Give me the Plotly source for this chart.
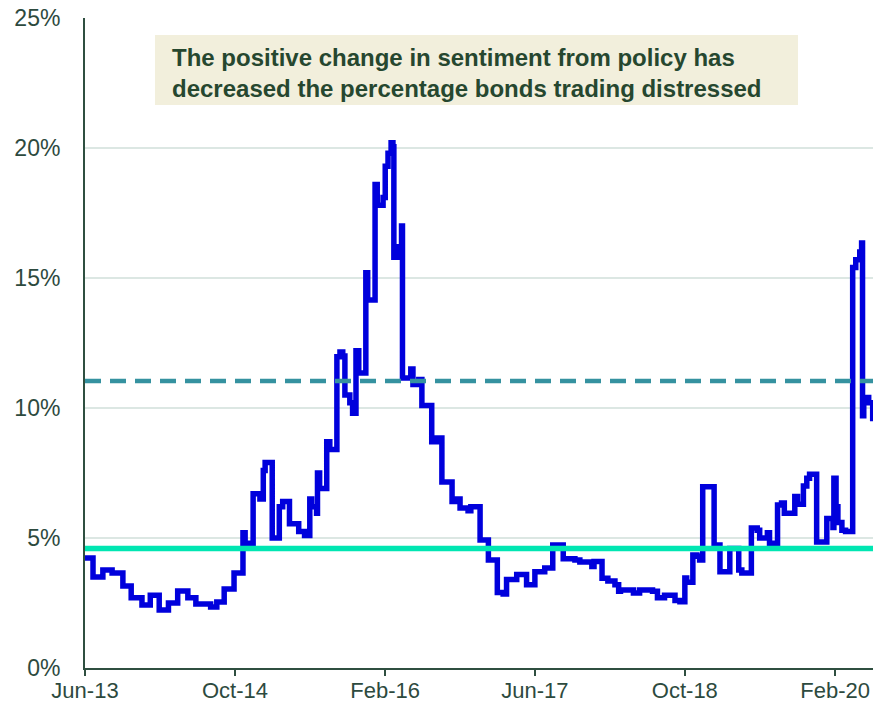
import plotly.graph_objects as go

# Share of bonds trading distressed (%), step series
dates = [
    "2013-06-01", "2013-06-27", "2013-07-29", "2013-08-28", "2013-10-02", "2013-10-29",
    "2013-12-03", "2013-12-30", "2014-01-28", "2014-02-27", "2014-03-29", "2014-05-01",
    "2014-05-27", "2014-07-14", "2014-08-03", "2014-08-27", "2014-09-28", "2014-10-27",
    "2014-11-03", "2014-11-29", "2014-12-21", "2015-01-01", "2015-01-07", "2015-01-30",
    "2015-02-22", "2015-03-05", "2015-03-27", "2015-04-26", "2015-05-15", "2015-06-01",
    "2015-06-07", "2015-06-23", "2015-06-26", "2015-07-03", "2015-07-26", "2015-08-05",
    "2015-08-28", "2015-09-07", "2015-09-16", "2015-09-23", "2015-10-09", "2015-10-18",
    "2015-10-29", "2015-11-07", "2015-11-30", "2015-12-06", "2015-12-30", "2016-01-06",
    "2016-01-25", "2016-02-01", "2016-02-10", "2016-02-20", "2016-02-26", "2016-02-29",
    "2016-03-12", "2016-03-25", "2016-03-28", "2016-04-24", "2016-05-01", "2016-05-20",
    "2016-05-30", "2016-07-01", "2016-07-17", "2016-08-03", "2016-09-05", "2016-09-14",
    "2016-10-01", "2016-10-27", "2016-11-05", "2016-12-05", "2017-01-01", "2017-01-30",
    "2017-02-18", "2017-03-01", "2017-04-03", "2017-05-05", "2017-06-01", "2017-07-03",
    "2017-07-29", "2017-09-01", "2017-10-09", "2017-10-25", "2017-12-03", "2017-12-10",
    "2018-01-05", "2018-01-24", "2018-02-16", "2018-02-28", "2018-03-06", "2018-04-17",
    "2018-05-07", "2018-06-18", "2018-07-04", "2018-07-27", "2018-08-30", "2018-09-15",
    "2018-10-01", "2018-10-07", "2018-10-27", "2018-11-09", "2018-11-18", "2018-11-28",
    "2019-01-04", "2019-01-23", "2019-02-24", "2019-03-25", "2019-04-04", "2019-05-05",
    "2019-05-24", "2019-06-01", "2019-06-26", "2019-07-03", "2019-07-29", "2019-08-11",
    "2019-08-20", "2019-09-23", "2019-10-02", "2019-10-21", "2019-11-01", "2019-11-10",
    "2019-12-03", "2020-01-05", "2020-01-25", "2020-01-28", "2020-02-04", "2020-02-10",
    "2020-02-23", "2020-03-06", "2020-03-29", "2020-04-08", "2020-04-21", "2020-04-27",
    "2020-04-30", "2020-05-04", "2020-05-20", "2020-06-02", "2020-06-03",
]
distressed_pct = [
    4.23, 3.5, 3.77, 3.65, 3.15, 2.7,
    2.42, 2.8, 2.23, 2.5, 2.96, 2.7,
    2.46, 2.35, 2.54, 3.04, 3.65, 5.2,
    4.8, 6.7, 6.5, 7.6, 7.9, 5.0,
    6.2, 6.4, 5.55, 5.25, 5.1, 6.5,
    6.2, 5.95, 7.5, 6.9, 8.7, 8.4,
    11.97, 12.15, 12.0, 10.5, 10.2, 9.8,
    12.2, 11.35, 15.2, 14.15, 18.6, 17.8,
    18.1, 19.3, 19.8, 20.2, 20.05, 15.8,
    16.2, 17.0, 11.15, 11.5, 10.9, 11.1,
    10.1, 8.7, 8.85, 7.15, 6.4, 6.5,
    6.15, 6.05, 6.2, 4.92, 4.15, 2.9,
    2.85, 3.4, 3.6, 3.2, 3.7, 3.85,
    4.73, 4.2, 4.15, 4.08, 3.9, 4.1,
    3.45, 3.35, 3.2, 2.95, 3.0, 2.88,
    3.0, 2.95, 2.7, 2.8, 2.6, 2.55,
    3.46, 3.3, 4.35, 4.3, 4.15, 6.97,
    4.73, 3.7, 4.6, 3.77, 3.65, 5.38,
    5.3, 5.0, 5.2, 4.8, 6.27, 6.35,
    5.95, 6.6, 6.3, 7.0, 7.3, 7.45,
    4.85, 5.75, 5.4, 7.3, 6.2, 5.6,
    5.3, 5.25, 15.4, 15.7, 16.0, 16.35,
    9.7, 10.4, 10.2, 9.6, 9.6,
]

long_run_avg = 11.04     # dashed reference level (%)
pre_crisis_level = 4.6   # solid reference level (%)

tick_dates = ["2013-06-01", "2014-10-01", "2016-02-01", "2017-06-01", "2018-10-01", "2020-02-01"]
tick_labels = ["Jun-13", "Oct-14", "Feb-16", "Jun-17", "Oct-18", "Feb-20"]
y_ticks = [0, 5, 10, 15, 20, 25]
y_labels = ["0%", "5%", "10%", "15%", "20%", "25%"]

x_range = ["2013-06-01", "2020-06-03"]

note = ("The positive change in sentiment from policy has<br>"
        "decreased the percentage bonds trading distressed")

axis_col = "#2f4f40"
text_col = "#2d4a3e"
font_fam = "Liberation Sans, Arial, sans-serif"

fig = go.Figure()
fig.add_trace(go.Scatter(
    x=dates, y=distressed_pct, mode="lines",
    line=dict(color="#0000dc", width=5.5, shape="hv"),
    hoverinfo="skip", showlegend=False,
))
fig.add_trace(go.Scatter(
    x=x_range, y=[pre_crisis_level, pre_crisis_level], mode="lines",
    line=dict(color="#00e6b2", width=5.5),
    showlegend=False, hoverinfo="skip",
))
fig.add_trace(go.Scatter(
    x=x_range, y=[long_run_avg, long_run_avg], mode="lines",
    line=dict(color="#3592a0", width=4.5, dash="16px,9px"),
    showlegend=False, hoverinfo="skip",
))

fig.add_shape(type="rect", xref="paper", yref="paper",
              x0=0.0888, x1=0.9048, y0=0.8662, y1=0.9738,
              fillcolor="#f2efdc", line=dict(width=0), layer="below")
fig.add_annotation(xref="paper", yref="paper", x=0.1079, y=0.915,
                   xanchor="left", yanchor="middle", align="left",
                   text="<b>" + note + "</b>", showarrow=False,
                   font=dict(family=font_fam, size=24, color="#26472f"))

fig.update_layout(
    width=888, height=707,
    margin=dict(l=85, r=15, t=18, b=39),
    paper_bgcolor="white", plot_bgcolor="white",
    font=dict(family=font_fam, size=23, color=text_col),
    showlegend=False,
)
fig.update_xaxes(
    type="date", range=x_range, automargin=False,
    tickmode="array", tickvals=tick_dates, ticktext=tick_labels,
    showgrid=False, zeroline=False,
    showline=True, linecolor=axis_col, linewidth=2,
    ticks="outside", ticklen=6, tickwidth=2, tickcolor=axis_col,
    ticklabelstandoff=-4,
    tickfont=dict(family=font_fam, size=22, color=text_col),
)
fig.update_yaxes(
    range=[0, 25], automargin=False,
    tickmode="array", tickvals=y_ticks, ticktext=y_labels,
    showgrid=True, gridcolor="#dce7e3", gridwidth=1.5,
    zeroline=False, showline=True, linecolor=axis_col, linewidth=2,
    ticks="", ticklabelstandoff=18,
    tickfont=dict(family=font_fam, size=23, color=text_col),
)

fig.write_html("out.html", config={"displayModeBar": False},
               post_script="document.body.style.margin='0';document.body.style.overflow='hidden';")
